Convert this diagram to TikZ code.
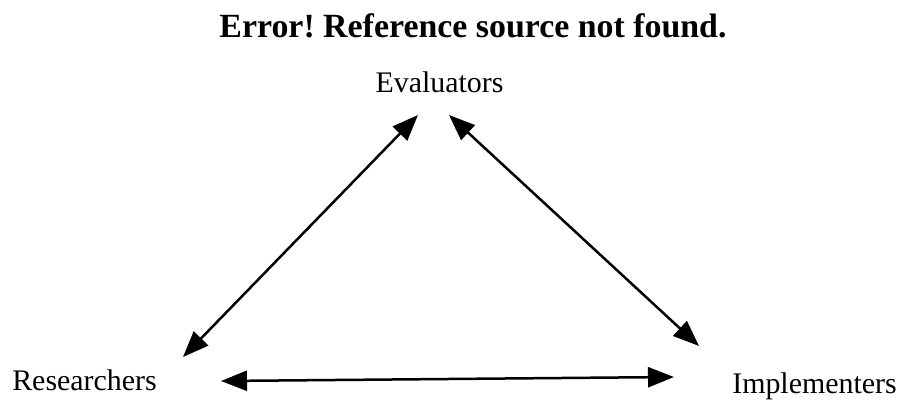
\documentclass[tikz,border=0pt]{standalone}
\usepackage{fontspec}
\setmainfont{Liberation Serif}
\usetikzlibrary{arrows.meta}
\tikzset{
  lab/.style={font=\fontsize{30}{32}\selectfont, inner sep=0pt, anchor=base},
  ttl/.style={font=\fontsize{34}{36}\selectfont\bfseries, inner sep=0pt, anchor=base},
  biarrow/.style={line width=2.5bp, black, {Triangle[length=26bp,width=20bp]}-{Triangle[length=26bp,width=20bp]}}
}
\begin{document}
\frenchspacing
\begin{tikzpicture}[x=1bp,y=-1bp]
\useasboundingbox (0,0) rectangle (903,401);
\node[ttl] (title) at (473,37) {Error!\ Reference source not found.};
\node[lab] (ev) at (439.5,92) {Evaluators};
\node[lab] (re) at (84.5,390) {Researchers};
\node[lab] (im) at (814.5,393) {Implementers};
% arrow end points, placed relative to the nodes
\coordinate (evL) at ([shift={(-21.5,23)}]ev.base);
\coordinate (evR) at ([shift={(9.5,23)}]ev.base);
\coordinate (reT) at ([shift={(98.5,-33)}]re.base);
\coordinate (reR) at ([shift={(136.5,-9)}]re.base);
\coordinate (imT) at ([shift={(-115.5,-47)}]im.base);
\coordinate (imL) at ([shift={(-140.5,-16)}]im.base);
\draw[biarrow] (evL) -- (reT);
\draw[biarrow] (evR) -- (imT);
\draw[biarrow] (reR) -- (imL);
\end{tikzpicture}
\end{document}
